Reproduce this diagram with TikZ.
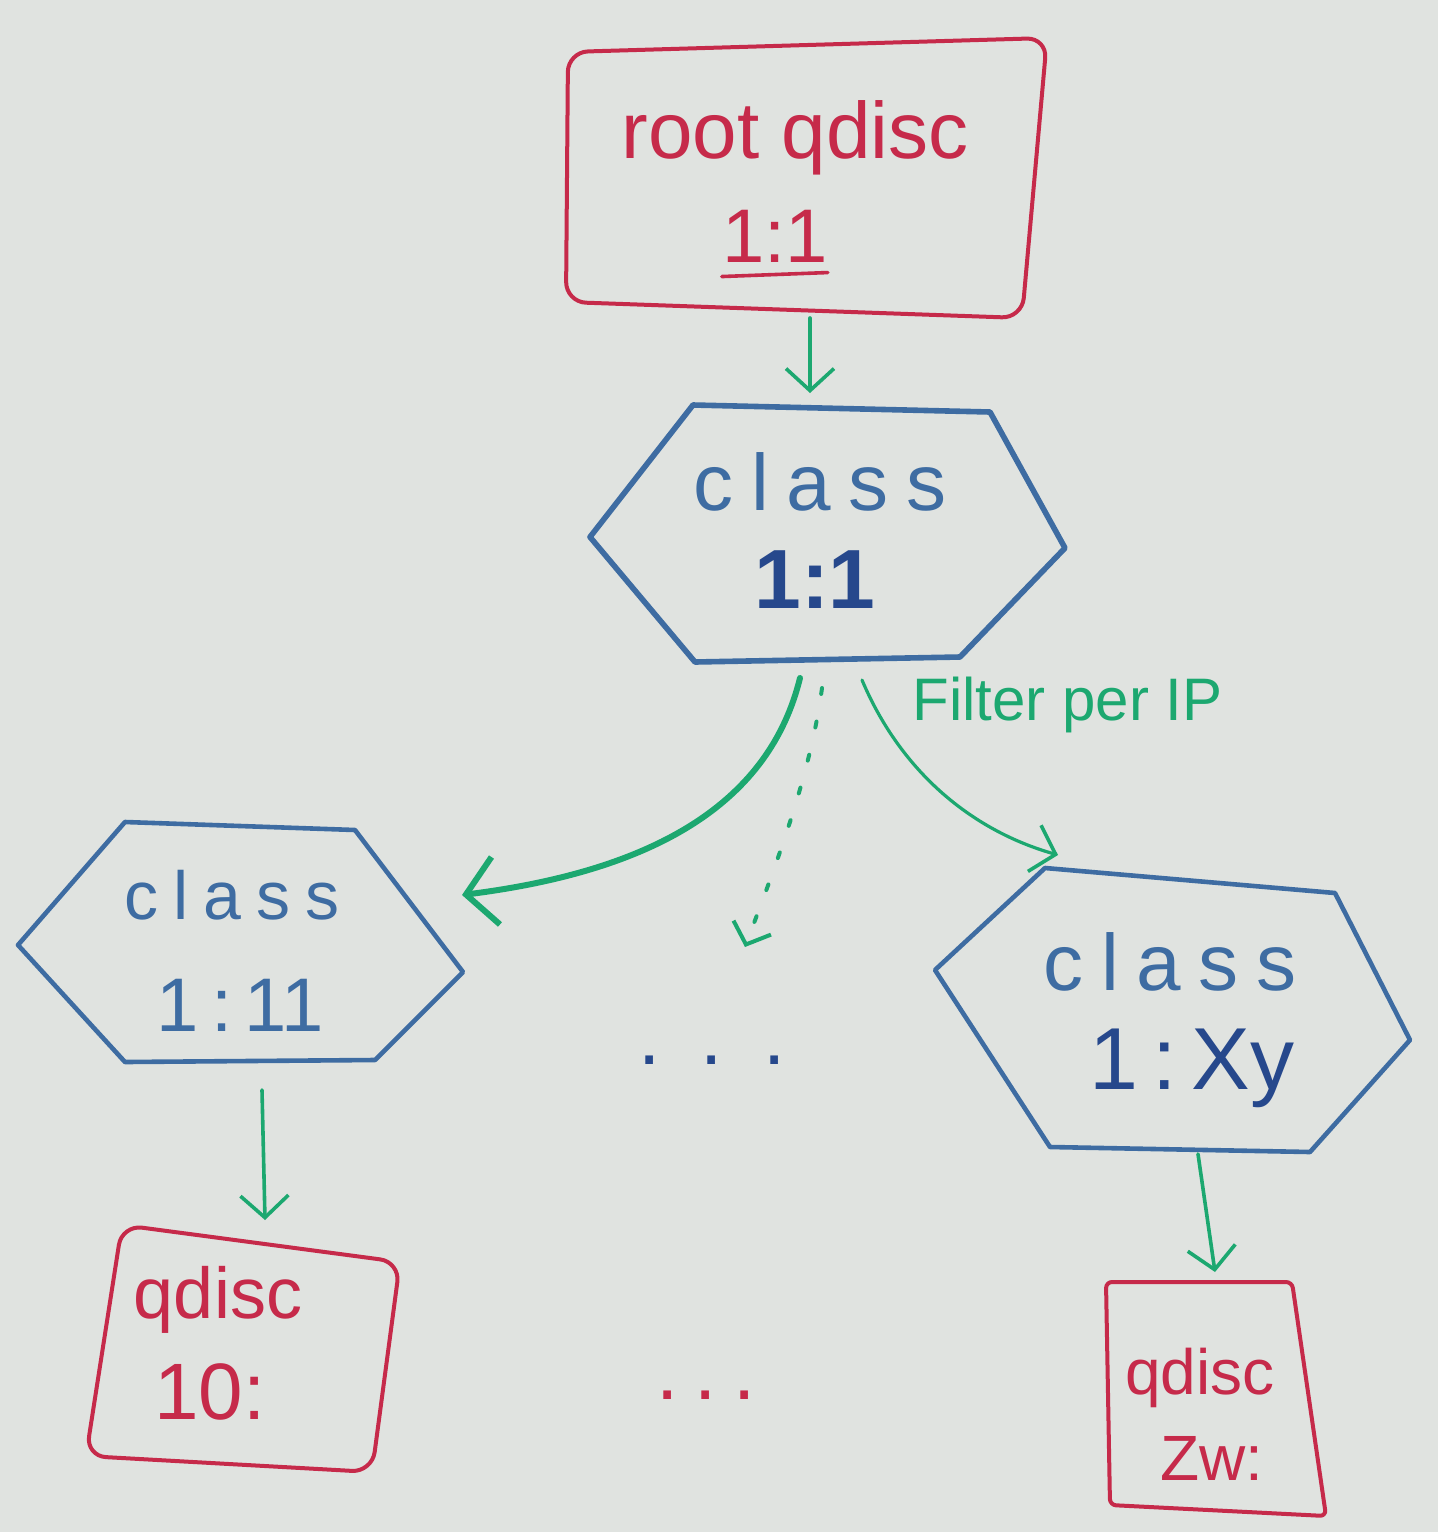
\documentclass[tikz,border=0pt]{standalone}
\usepackage{fontspec}
\setmainfont{Liberation Sans}
\usetikzlibrary{arrows.meta}
\definecolor{board}{RGB}{224,227,224}
\definecolor{mred}{RGB}{198,42,74}
\definecolor{mblue}{RGB}{62,108,162}
\definecolor{mdblue}{RGB}{38,72,140}
\definecolor{mgreen}{RGB}{28,168,112}
\newcommand{\lsp}{\hspace{0.22em}}
\tikzset{
  redbox/.style={draw=mred, line width=2pt, rounded corners=10pt, line join=round},
  hexbox/.style={draw=mblue, line width=2.3pt, line join=round},
  flow/.style={draw=mgreen, line width=1.8pt, line cap=round,
    -{Straight Barb[length=11pt,width=24pt,line width=1.8pt]}},
  bigflow/.style={draw=mgreen, line width=3pt, line cap=round,
    -{Straight Barb[length=15pt,width=34pt,line width=3pt]}},
  dotflow/.style={draw=mgreen, line width=2pt, line cap=round, dash pattern=on 3pt off 14pt,
    -{Straight Barb[length=9pt,width=20pt,line width=2pt,sep=0pt]}},
  lbl/.style={inner sep=0pt, anchor=center},
  redtxt/.style={lbl, text=mred},
  bluetxt/.style={lbl, text=mblue},
}
\begin{document}
\begin{tikzpicture}[x=0.5pt,y=-0.5pt]
\fill[board] (0,0) rectangle (1438,1532);
\useasboundingbox (0,0) rectangle (1438,1532);

% ---------- root qdisc ----------
\draw[redbox] (568,52) -- (1047,38) -- (1022,318) -- (566,302) -- cycle;
\node[redtxt, font=\fontsize{40}{40}\selectfont] (rootname) at (795,138) {root qdisc};
\node[redtxt, font=\fontsize{38}{38}\selectfont] (rootid) at (775,236) {1:1};
\draw[mred, line width=1.8pt, line cap=round] (rootid.south west) ++(0,14) -- ++(106,-4);

\coordinate (root-s) at (810,318);

% ---------- class 1:1 ----------
\draw[hexbox, line width=2.8pt] (693,405) -- (990,412) -- (1065,548) -- (960,657) -- (695,662) -- (590,537) -- cycle;
\node[bluetxt, font=\fontsize{40}{40}\selectfont] (c1name) at (820,482) {c\lsp l\lsp a\lsp s\lsp s};
\node[lbl, text=mdblue, font=\bfseries\fontsize{42}{42}\selectfont] (c1id) at (815,580) {1:1};
\coordinate (c1-n) at (810,393);
\coordinate (c1-sl) at (800,678);
\coordinate (c1-sm) at (822,688);
\coordinate (c1-sr) at (862,680);

% ---------- class 1:11 ----------
\draw[hexbox] (125,822) -- (355,830) -- (463,972) -- (375,1060) -- (125,1062) -- (18,945) -- cycle;
\node[bluetxt, font=\fontsize{34}{34}\selectfont] (c11name) at (232,895) {c\lsp l\lsp a\lsp s\lsp s};
\node[bluetxt, font=\fontsize{38}{38}\selectfont] (c11id) at (240,1005) {1\,:\,11};
\coordinate (c11-e) at (462,895);
\coordinate (c11-s) at (262,1090);

% ---------- class 1:Xy ----------
\draw[hexbox] (1045,868) -- (1335,893) -- (1410,1040) -- (1310,1152) -- (1050,1147) -- (935,970) -- cycle;
\node[bluetxt, font=\fontsize{40}{40}\selectfont] (cxyname) at (1170,962) {c\lsp l\lsp a\lsp s\lsp s};
\node[lbl, text=mdblue, font=\fontsize{44}{44}\selectfont] (cxyid) at (1192,1068) {1\,:\,Xy};
\coordinate (cxy-n) at (1058,855);
\coordinate (cxy-s) at (1198,1154);

% ---------- middle dots ----------
\coordinate (mid-n) at (745,947);
\node[lbl, text=mdblue, font=\fontsize{40}{40}\selectfont] (dotsblue) at (712,1060) {.\hspace{0.5em}.\hspace{0.5em}.};
\node[redtxt, font=\fontsize{40}{40}\selectfont] (dotsred) at (706,1395) {.\hspace{0.2em}.\hspace{0.2em}.};

% ---------- qdisc 10: ----------
\draw[redbox] (122,1225) -- (400,1262) -- (372,1472) -- (86,1456) -- cycle;
\node[redtxt, font=\fontsize{36}{36}\selectfont] (q10name) at (218,1300) {qdisc};
\node[redtxt, font=\fontsize{40}{40}\selectfont] (q10id) at (210,1392) {10:};
\coordinate (q10-n) at (265,1220);

% ---------- qdisc Zw: ----------
\draw[redbox, rounded corners=3pt] (1106,1282) -- (1292,1282) -- (1326,1516) -- (1110,1505) -- cycle;
\node[redtxt, font=\fontsize{32}{32}\selectfont] (qzwname) at (1200,1378) {qdisc};
\node[redtxt, font=\fontsize{32}{32}\selectfont] (qzwid) at (1212,1458) {Zw:};
\coordinate (qzw-n) at (1215,1272);

% ---------- connectors ----------
\draw[flow] (root-s) -- (c1-n);
\draw[bigflow] (c1-sl) .. controls (770,800) and (660,870) .. (c11-e);
\draw[flow, line width=1.6pt] (c1-sr) .. controls (900,770) and (970,830) .. (cxy-n);
\draw[dotflow] (c1-sm) .. controls (810,780) and (770,880) .. (mid-n);
\draw[flow] (c11-s) -- (q10-n);
\draw[flow] (cxy-s) -- (qzw-n);
\node[lbl, text=mgreen, font=\fontsize{30}{30}\selectfont, anchor=west] (filter) at (912,705) {Filter per IP};
\end{tikzpicture}
\end{document}
